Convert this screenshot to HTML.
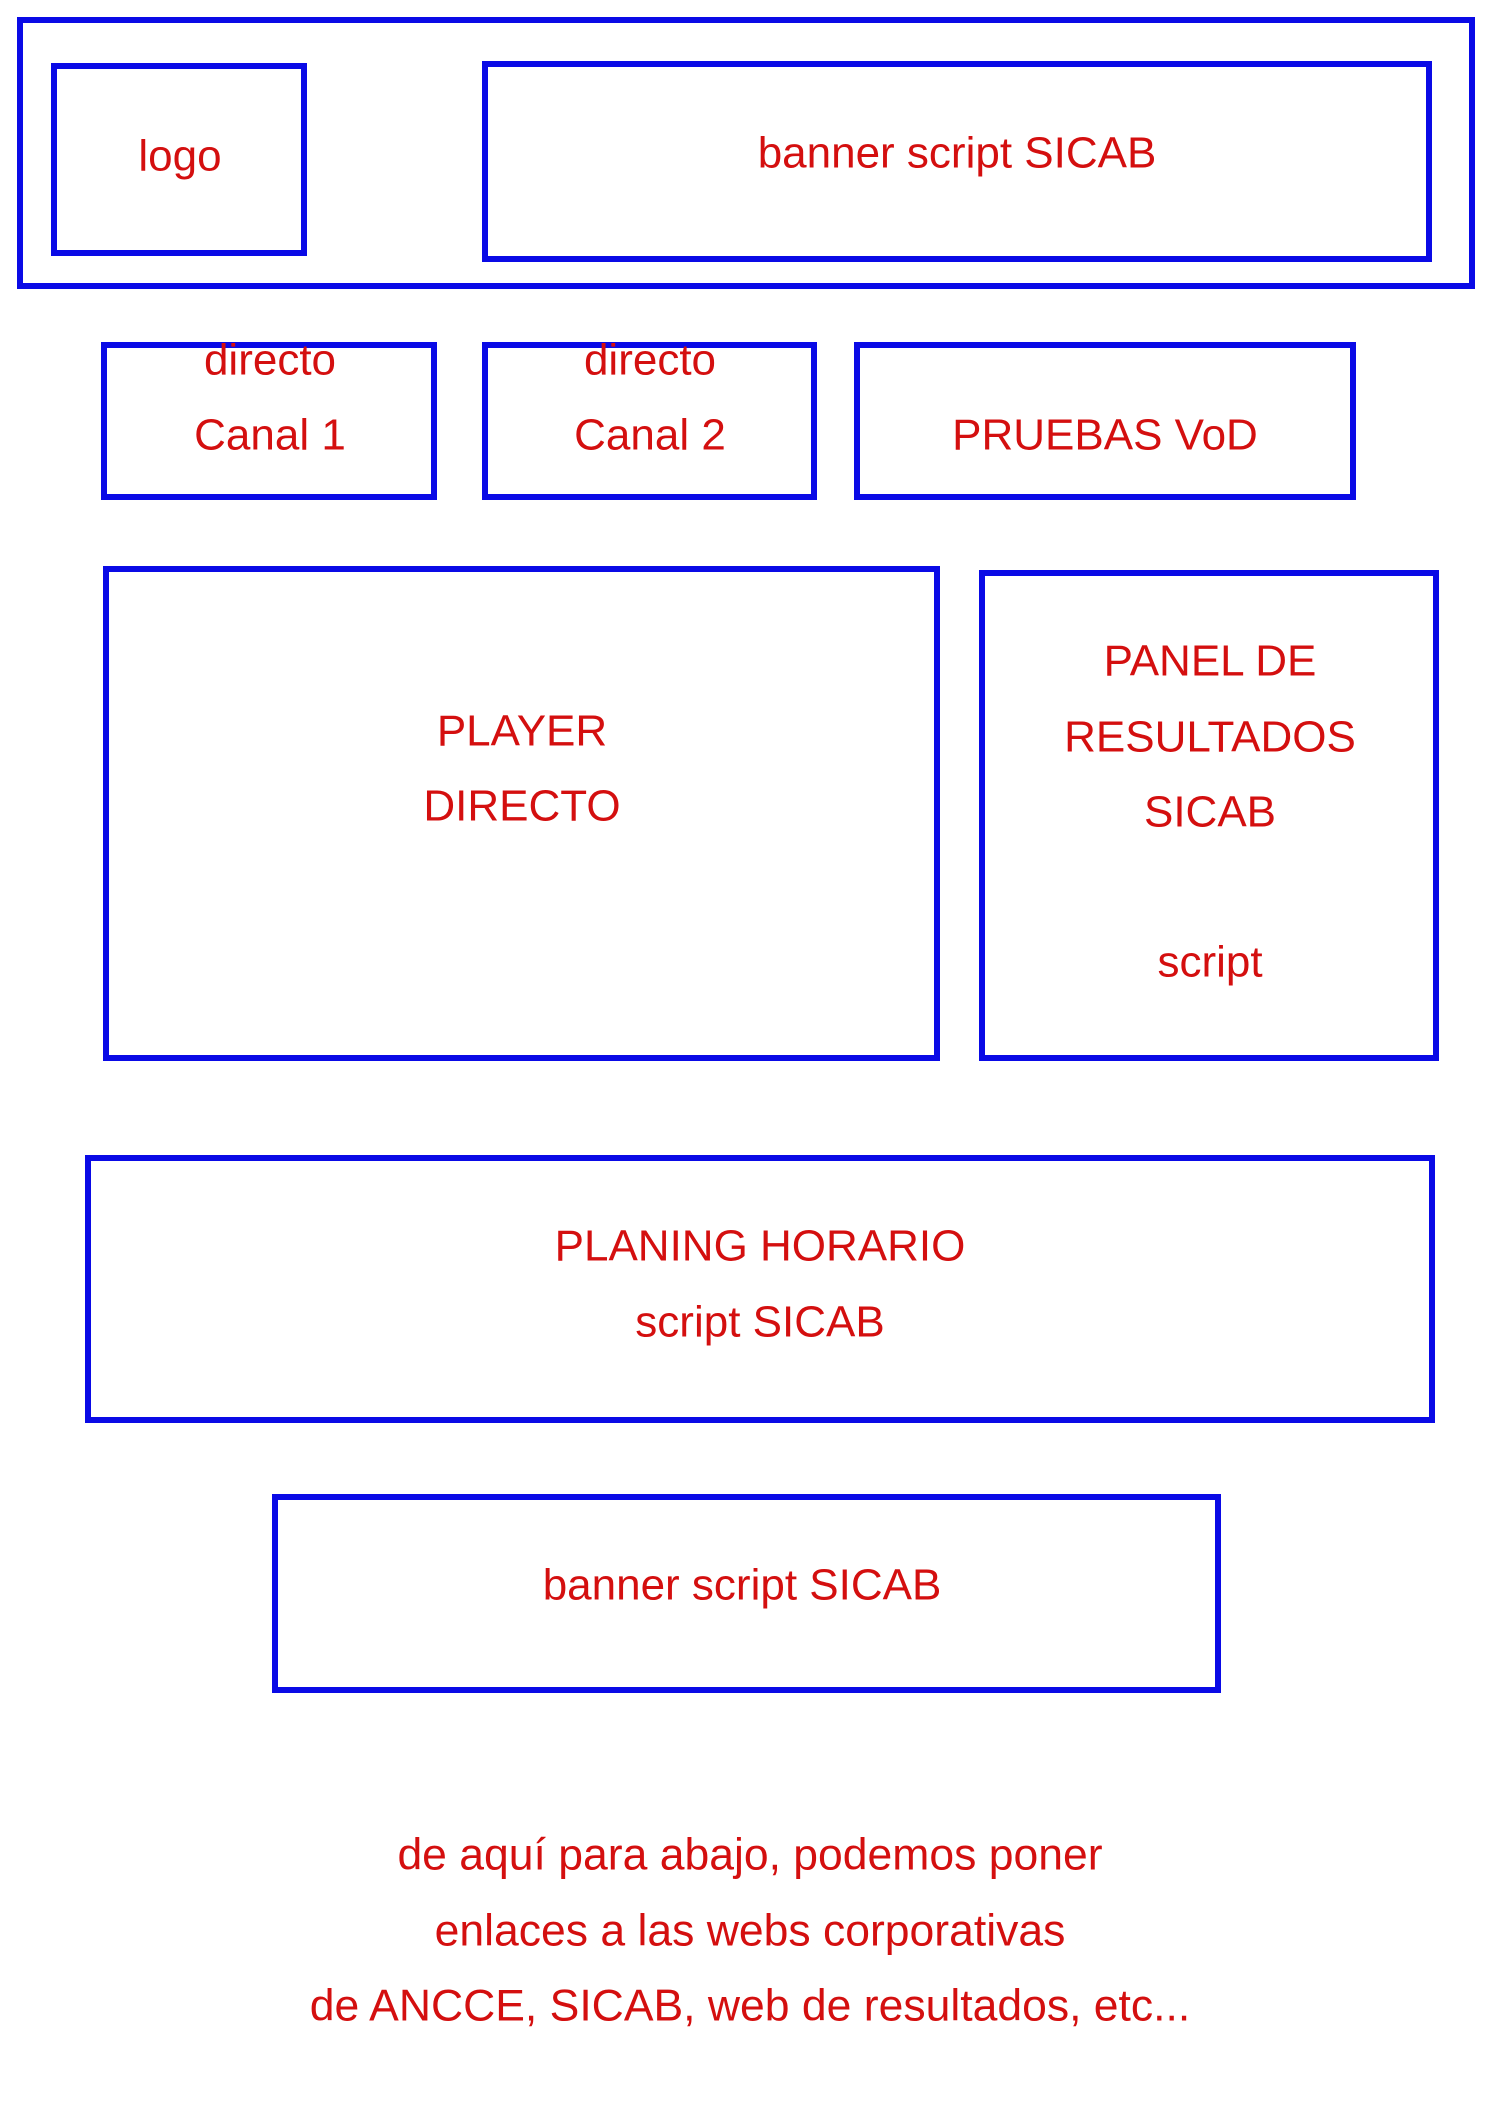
<!DOCTYPE html>
<html><head><style>html,body{margin:0;padding:0;background:#fff}svg{display:block}</style></head>
<body>
<svg width="1500" height="2122" viewBox="0 0 1500 2122" xmlns="http://www.w3.org/2000/svg">
<g fill="none" stroke="#0a0ae6" stroke-width="6">
<rect x="20" y="20" width="1452" height="266"/>
<rect x="54" y="66" width="250" height="187"/>
<rect x="485" y="64" width="944" height="195"/>
<rect x="104" y="345" width="330" height="152"/>
<rect x="485" y="345" width="329" height="152"/>
<rect x="857" y="345" width="496" height="152"/>
<rect x="106" y="569" width="831" height="489"/>
<rect x="982" y="573" width="454" height="485"/>
<rect x="88" y="1158" width="1344" height="262"/>
<rect x="275" y="1497" width="943" height="193"/>
</g>
<g fill="#d40f0f" font-family="Liberation Sans, sans-serif" font-size="44" text-anchor="middle" dominant-baseline="central">
<text x="180" y="156">logo</text>
<text x="957" y="153">banner script SICAB</text>
<text x="270" y="360">directo</text>
<text x="270" y="435">Canal 1</text>
<text x="650" y="360">directo</text>
<text x="650" y="435">Canal 2</text>
<text x="1105" y="435">PRUEBAS VoD</text>
<text x="522" y="731">PLAYER</text>
<text x="522" y="806">DIRECTO</text>
<text x="1210" y="661">PANEL DE</text>
<text x="1210" y="737">RESULTADOS</text>
<text x="1210" y="812">SICAB</text>
<text x="1210" y="962">script</text>
<text x="760" y="1246">PLANING HORARIO</text>
<text x="760" y="1322">script SICAB</text>
<text x="742" y="1585">banner script SICAB</text>
<text x="750" y="1855" font-size="44.5">de aquí para abajo, podemos poner</text>
<text x="750" y="1931" font-size="44.5">enlaces a las webs corporativas</text>
<text x="750" y="2006" font-size="44.5">de ANCCE, SICAB, web de resultados, etc...</text>
</g>
</svg>
</body></html>
